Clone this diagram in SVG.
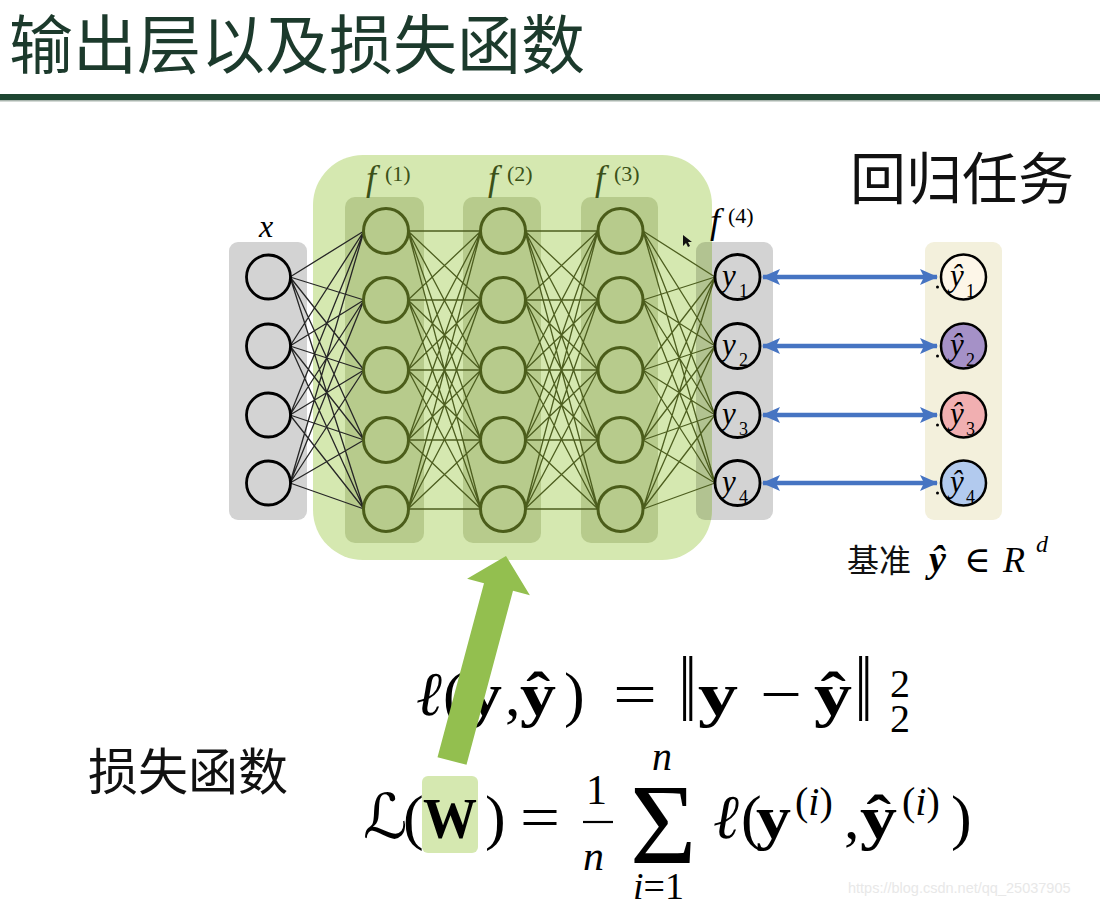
<svg xmlns="http://www.w3.org/2000/svg" width="1100" height="907" viewBox="0 0 1100 907">
<style>
.cjk{font-family:"Noto Sans CJK SC","Noto Sans",sans-serif;}
.m{font-family:"Liberation Serif","DejaVu Serif","DejaVu Sans",serif;fill:#000;}
.it{font-style:italic;}
.bf{font-weight:bold;}
.gbox{fill:#d3d3d3;}
.col{fill:#b7cb8c;}
.hn{fill:none;stroke:#4b5d1a;stroke-width:3;}
.bn{fill:none;stroke:#000;stroke-width:2.8;}
.yh{stroke:#000;stroke-width:2.5;}
.eA{fill:none;stroke:#262626;stroke-width:1.3;}
.eH{fill:none;stroke:#4d5e1f;stroke-width:1.3;}
.blue{stroke:#4674c2;stroke-width:4.5;fill:none;marker-start:url(#ah);marker-end:url(#ah);}
.flab{font-family:"Liberation Serif","DejaVu Serif",serif;fill:#3b5118;}
</style>
<defs>
<marker id="ah" markerUnits="userSpaceOnUse" viewBox="0 0 18 16" markerWidth="18" markerHeight="16" refX="17" refY="8" orient="auto-start-reverse">
<path d="M0,0 L18,8 L0,16 L4,8 z" fill="#4674c2"/>
</marker>
<clipPath id="gclip"><rect x="313" y="155" width="399" height="405" rx="50" ry="50"/></clipPath>
</defs>
<rect x="0" y="0" width="1100" height="907" fill="#ffffff"/>

<g id="title">
<text class="cjk" x="9" y="68" font-size="64" fill="#1c3a2c">输出层以及损失函数</text>
<rect x="0" y="94" width="1100" height="6" fill="#1e4632"/>
<rect x="0" y="100" width="1100" height="1.5" fill="#a9b5ae"/>
</g>

<g id="layer-boxes">
<rect class="gbox" x="229" y="242" width="78" height="278" rx="9"/>
<rect class="gbox" x="696" y="242" width="77" height="278" rx="9"/>
<rect x="313" y="155" width="399" height="405" rx="50" ry="50" fill="#d5e8b0"/>
<rect x="696" y="242" width="77" height="278" rx="9" fill="#b2c391" clip-path="url(#gclip)"/>
<rect class="col" x="345" y="197" width="79" height="346" rx="10"/>
<rect class="col" x="463" y="197" width="78" height="346" rx="10"/>
<rect class="col" x="581" y="197" width="77" height="346" rx="10"/>
<rect x="925" y="242" width="77" height="278" rx="9" fill="#f3f0dc"/>
</g>

<g id="connectors">
<path class="eA" d="M290 277L364 231M290 277L364 300M290 277L364 370M290 277L364 440M290 277L364 509M290 346L364 231M290 346L364 300M290 346L364 370M290 346L364 440M290 346L364 509M290 415L364 231M290 415L364 300M290 415L364 370M290 415L364 440M290 415L364 509M290 483L364 231M290 483L364 300M290 483L364 370M290 483L364 440M290 483L364 509"/>
<path class="eH" d="M408 231L481 231M408 231L481 300M408 231L481 370M408 231L481 440M408 231L481 509M408 300L481 231M408 300L481 300M408 300L481 370M408 300L481 440M408 300L481 509M408 370L481 231M408 370L481 300M408 370L481 370M408 370L481 440M408 370L481 509M408 440L481 231M408 440L481 300M408 440L481 370M408 440L481 440M408 440L481 509M408 509L481 231M408 509L481 300M408 509L481 370M408 509L481 440M408 509L481 509"/>
<path class="eH" d="M525 231L598 231M525 231L598 300M525 231L598 370M525 231L598 440M525 231L598 509M525 300L598 231M525 300L598 300M525 300L598 370M525 300L598 440M525 300L598 509M525 370L598 231M525 370L598 300M525 370L598 370M525 370L598 440M525 370L598 509M525 440L598 231M525 440L598 300M525 440L598 370M525 440L598 440M525 440L598 509M525 509L598 231M525 509L598 300M525 509L598 370M525 509L598 440M525 509L598 509"/>
<path class="eH" d="M643 231L715 277M643 231L715 346M643 231L715 415M643 231L715 483M643 300L715 277M643 300L715 346M643 300L715 415M643 300L715 483M643 370L715 277M643 370L715 346M643 370L715 415M643 370L715 483M643 440L715 277M643 440L715 346M643 440L715 415M643 440L715 483M643 509L715 277M643 509L715 346M643 509L715 415M643 509L715 483"/>
<line class="blue" x1="763" y1="277" x2="937" y2="277"/>
<line class="blue" x1="763" y1="346" x2="937" y2="346"/>
<line class="blue" x1="763" y1="415" x2="937" y2="415"/>
<line class="blue" x1="763" y1="483" x2="937" y2="483"/>
</g>

<g id="input-layer">
<text class="m it" x="259" y="237" font-size="32">x</text>
<circle class="bn" cx="268.5" cy="277" r="22"/>
<circle class="bn" cx="268.5" cy="346" r="22"/>
<circle class="bn" cx="268.5" cy="415" r="22"/>
<circle class="bn" cx="268.5" cy="483" r="22"/>
</g>

<g id="hidden-layer-1">
<text class="flab it" x="366" y="190" font-size="36">f</text>
<text class="flab" x="385" y="181" font-size="22">(1)</text>
<circle class="hn" cx="386" cy="231" r="22.5"/>
<circle class="hn" cx="386" cy="300" r="22.5"/>
<circle class="hn" cx="386" cy="370" r="22.5"/>
<circle class="hn" cx="386" cy="440" r="22.5"/>
<circle class="hn" cx="386" cy="509" r="22.5"/>
</g>

<g id="hidden-layer-2">
<text class="flab it" x="488" y="190" font-size="36">f</text>
<text class="flab" x="507" y="181" font-size="22">(2)</text>
<circle class="hn" cx="503" cy="231" r="22.5"/>
<circle class="hn" cx="503" cy="300" r="22.5"/>
<circle class="hn" cx="503" cy="370" r="22.5"/>
<circle class="hn" cx="503" cy="440" r="22.5"/>
<circle class="hn" cx="503" cy="509" r="22.5"/>
</g>

<g id="hidden-layer-3">
<text class="flab it" x="595" y="190" font-size="36">f</text>
<text class="flab" x="614" y="181" font-size="22">(3)</text>
<circle class="hn" cx="620.5" cy="231" r="22.5"/>
<circle class="hn" cx="620.5" cy="300" r="22.5"/>
<circle class="hn" cx="620.5" cy="370" r="22.5"/>
<circle class="hn" cx="620.5" cy="440" r="22.5"/>
<circle class="hn" cx="620.5" cy="509" r="22.5"/>
</g>

<g id="output-layer">
<text class="m it" x="710" y="233" font-size="36" fill="#1a1a1a">f</text>
<text class="m" x="728" y="223" font-size="22">(4)</text>
<circle class="bn" cx="737.5" cy="277" r="22.5"/>
<circle class="bn" cx="737.5" cy="346" r="22.5"/>
<circle class="bn" cx="737.5" cy="415" r="22.5"/>
<circle class="bn" cx="737.5" cy="483" r="22.5"/>
<text class="m it" x="722" y="286" font-size="31">y</text><text class="m" x="739" y="297" font-size="18">1</text>
<text class="m it" x="722" y="355" font-size="31">y</text><text class="m" x="739" y="366" font-size="18">2</text>
<text class="m it" x="722" y="424" font-size="31">y</text><text class="m" x="739" y="435" font-size="18">3</text>
<text class="m it" x="722" y="492" font-size="31">y</text><text class="m" x="739" y="503" font-size="18">4</text>
</g>

<g id="target-layer">
<circle class="yh" cx="963.5" cy="277" r="22.5" fill="#fdf6e8"/>
<circle class="yh" cx="963.5" cy="346" r="22.5" fill="#a591c7"/>
<circle class="yh" cx="963.5" cy="415" r="22.5" fill="#f1afb1"/>
<circle class="yh" cx="963.5" cy="483" r="22.5" fill="#b2caee"/>
<circle cx="937.5" cy="287" r="1.5" fill="#000"/>
<circle cx="937.5" cy="356" r="1.5" fill="#000"/>
<circle cx="937.5" cy="425" r="1.5" fill="#000"/>
<circle cx="937.5" cy="493" r="1.5" fill="#000"/>
<text class="m it" x="950" y="286" font-size="31">ŷ</text><text class="m" x="966" y="297" font-size="18">1</text>
<text class="m it" x="950" y="355" font-size="31">ŷ</text><text class="m" x="966" y="366" font-size="18">2</text>
<text class="m it" x="950" y="424" font-size="31">ŷ</text><text class="m" x="966" y="435" font-size="18">3</text>
<text class="m it" x="950" y="492" font-size="31">ŷ</text><text class="m" x="966" y="503" font-size="18">4</text>
</g>

<g id="task-label">
<text class="cjk" x="850" y="199" font-size="56" fill="#111">回归任务</text>
</g>

<g id="reference-label">
<text class="cjk" x="847" y="572" font-size="32" fill="#111">基准</text>
<text class="m it bf" x="929" y="572" font-size="38">ŷ</text>
<text class="m" x="964" y="572" font-size="36">∈</text>
<text class="m it" x="1003" y="572" font-size="36">R</text>
<text class="m it" x="1036" y="552" font-size="24">d</text>
</g>

<g id="cursor">
<path d="M683,235 L683,246 L686,243 L688,247 L690,246 L688,242 L692,242 Z" fill="#111"/>
</g>

<g id="loss-formula">
<text class="m it" x="416" y="715" font-size="62">ℓ</text>
<text class="m" x="443" y="715" font-size="62">(</text>
<text class="m bf" x="466" y="715" font-size="62" textLength="36" lengthAdjust="spacingAndGlyphs">y</text>
<text class="m" x="505" y="715" font-size="62">,</text>
<text class="m bf" x="520" y="715" font-size="62" textLength="36" lengthAdjust="spacingAndGlyphs">ŷ</text>
<text class="m" x="564" y="715" font-size="62">)</text>
<text class="m" x="613" y="715" font-size="62" textLength="44" lengthAdjust="spacingAndGlyphs">=</text>
<text class="m" transform="translate(679,721) scale(1,1.5)" x="0" y="0" font-size="62">‖</text>
<text class="m bf" x="698" y="715" font-size="62" textLength="40" lengthAdjust="spacingAndGlyphs">y</text>
<text class="m" x="760" y="715" font-size="62" textLength="42" lengthAdjust="spacingAndGlyphs">−</text>
<text class="m bf" x="814" y="715" font-size="62" textLength="38" lengthAdjust="spacingAndGlyphs">ŷ</text>
<text class="m" transform="translate(855,721) scale(1,1.5)" x="0" y="0" font-size="62">‖</text>
<text class="m" x="890" y="697" font-size="40">2</text>
<text class="m" x="890" y="732" font-size="40">2</text>
</g>

<g id="loss-label">
<text class="cjk" x="88" y="790" font-size="50" fill="#111">损失函数</text>
</g>

<g id="total-loss">
<text class="m it" x="363" y="838" font-size="62">ℒ</text>
<text class="m" x="403" y="838" font-size="62">(</text>
<rect x="422" y="776" width="56" height="77" rx="6" fill="#d5e8b0"/>
<text class="m bf" x="423" y="838" font-size="56" fill="#3c5a14" textLength="54" lengthAdjust="spacingAndGlyphs">W</text>
<text class="m" x="485" y="838" font-size="62">)</text>
<text class="m" x="520" y="838" font-size="62" textLength="40" lengthAdjust="spacingAndGlyphs">=</text>
<text class="m" x="586" y="804" font-size="42">1</text>
<line x1="583" y1="822" x2="613" y2="822" stroke="#000" stroke-width="2.2"/>
<text class="m it" x="583" y="870" font-size="42">n</text>
<text class="m" x="630" y="863" font-size="114">Σ</text>
<text class="m it" x="652" y="770" font-size="40">n</text>
<text class="m" x="633" y="899" font-size="38"><tspan class="it">i</tspan>=1</text>
<text class="m it" x="713" y="838" font-size="62">ℓ</text>
<text class="m" x="741" y="838" font-size="62">(</text>
<text class="m bf" x="756" y="838" font-size="62" textLength="35" lengthAdjust="spacingAndGlyphs">y</text>
<text class="m" x="795" y="815" font-size="40">(<tspan class="it">i</tspan>)</text>
<text class="m" x="844" y="838" font-size="62">,</text>
<text class="m bf" x="860" y="838" font-size="62" textLength="37" lengthAdjust="spacingAndGlyphs">ŷ</text>
<text class="m" x="902" y="815" font-size="40">(<tspan class="it">i</tspan>)</text>
<text class="m" x="951" y="838" font-size="62">)</text>
</g>

<g id="big-arrow">
<polygon points="506,556 529.9,595.3 513,590.8 466.5,764.8 437.5,757.2 484,583.2 467.1,578.7" fill="#93bf4f"/>
</g>

<g id="watermark">
<text x="848" y="893" font-family="Liberation Sans, Arial, sans-serif" font-size="14.5" fill="#e8e8e8">https://blog.csdn.net/qq_25037905</text>
</g>
</svg>
